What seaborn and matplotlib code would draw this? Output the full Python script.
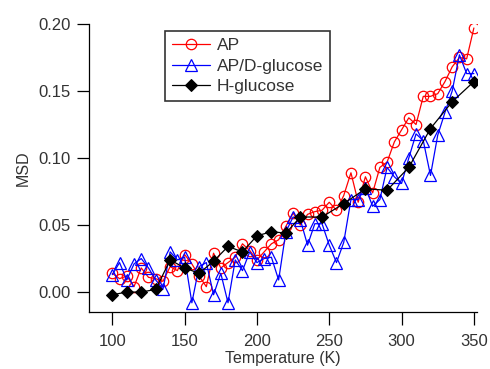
import numpy as np
import pandas as pd
import matplotlib
matplotlib.use("Agg")
import matplotlib.pyplot as plt
import seaborn as sns

# temperatures (K)
temp_ap = list(range(100, 351, 5))
temp_h = list(range(100, 231, 10)) + list(range(245, 351, 15))

# MSD values
msd_ap = [0.014, 0.010, 0.012, 0.004, 0.018, 0.011, 0.010, 0.008, 0.019, 0.016,
          0.028, 0.021, 0.012, 0.004, 0.029, 0.018, 0.022, 0.026, 0.036, 0.031,
          0.024, 0.030, 0.036, 0.039, 0.049, 0.059, 0.050, 0.058, 0.060, 0.061,
          0.067, 0.061, 0.072, 0.089, 0.067, 0.086, 0.074, 0.093, 0.097, 0.112,
          0.121, 0.130, 0.125, 0.146, 0.146, 0.148, 0.157, 0.168, 0.175, 0.174,
          0.197]
msd_apd = [0.013, 0.022, 0.009, 0.021, 0.025, 0.018, 0.009, 0.002, 0.030, 0.024,
           0.026, -0.008, 0.019, 0.022, -0.002, 0.014, -0.008, 0.024, 0.016, 0.030,
           0.022, 0.025, 0.026, 0.009, 0.045, 0.056, 0.054, 0.035, 0.051, 0.051,
           0.035, 0.022, 0.037, 0.069, 0.069, 0.078, 0.064, 0.069, 0.093, 0.086,
           0.081, 0.100, 0.118, 0.113, 0.087, 0.117, 0.134, 0.150, 0.177, 0.163,
           0.163]
msd_h = [-0.002, 0.000, 0.000, 0.002, 0.024, 0.018, 0.014, 0.023, 0.034, 0.030,
         0.042, 0.045, 0.044, 0.056, 0.056, 0.066, 0.077, 0.076, 0.093, 0.122,
         0.142, 0.157]

labels = ["AP", "AP/D-glucose", "H-glucose"]

sns.set_style("ticks")
plt.rcParams["font.family"] = ["Liberation Sans", "DejaVu Sans"]

fig = plt.figure(figsize=(4.9, 3.69), dpi=100)
ax = fig.add_axes([0.182, 0.154, 0.791, 0.781])

sns.lineplot(x=temp_ap, y=msd_ap, ax=ax, color="red", lw=0.9, marker="o",
             markersize=7.5, mfc="none", mec="red", mew=0.9, label=labels[0])
sns.lineplot(x=temp_ap, y=msd_apd, ax=ax, color="blue", lw=0.9, marker="^",
             markersize=8, mfc="none", mec="blue", mew=0.9, label=labels[1])
sns.lineplot(x=temp_h, y=msd_h, ax=ax, color="black", lw=0.9, marker="D",
             markersize=6, mfc="black", mec="black", label=labels[2])

ax.set_xlim(84, 352)
ax.set_ylim(-0.015, 0.20)
ax.set_xticks([100, 150, 200, 250, 300, 350])
ax.set_yticks([0.00, 0.05, 0.10, 0.15, 0.20])
ax.set_yticklabels(["0.00", "0.05", "0.10", "0.15", "0.20"])
ax.tick_params(direction="out", length=9, width=0.9, colors="black",
               labelcolor="#333333", labelsize=12)
ax.tick_params(axis="x", pad=7)
ax.tick_params(axis="y", pad=4)
sns.despine(ax=ax)
for s in ["left", "bottom"]:
    ax.spines[s].set_color("black")
    ax.spines[s].set_linewidth(0.9)

ax.set_xlabel("Temperature (K)", fontsize=11.5, color="#333333", labelpad=1)
ax.set_ylabel("MSD", fontsize=11.5, color="#333333", labelpad=6)

leg = ax.legend(loc="upper left", bbox_to_anchor=(0.195, 0.975), fontsize=12.5,
                frameon=True, fancybox=False, edgecolor="black",
                borderpad=0.4, handlelength=2.2, handletextpad=0.4,
                labelspacing=0.3, borderaxespad=0)
leg.get_frame().set_linewidth(1.2)
for t in leg.get_texts():
    t.set_color("#333333")

fig.savefig("out.png", dpi=100)
